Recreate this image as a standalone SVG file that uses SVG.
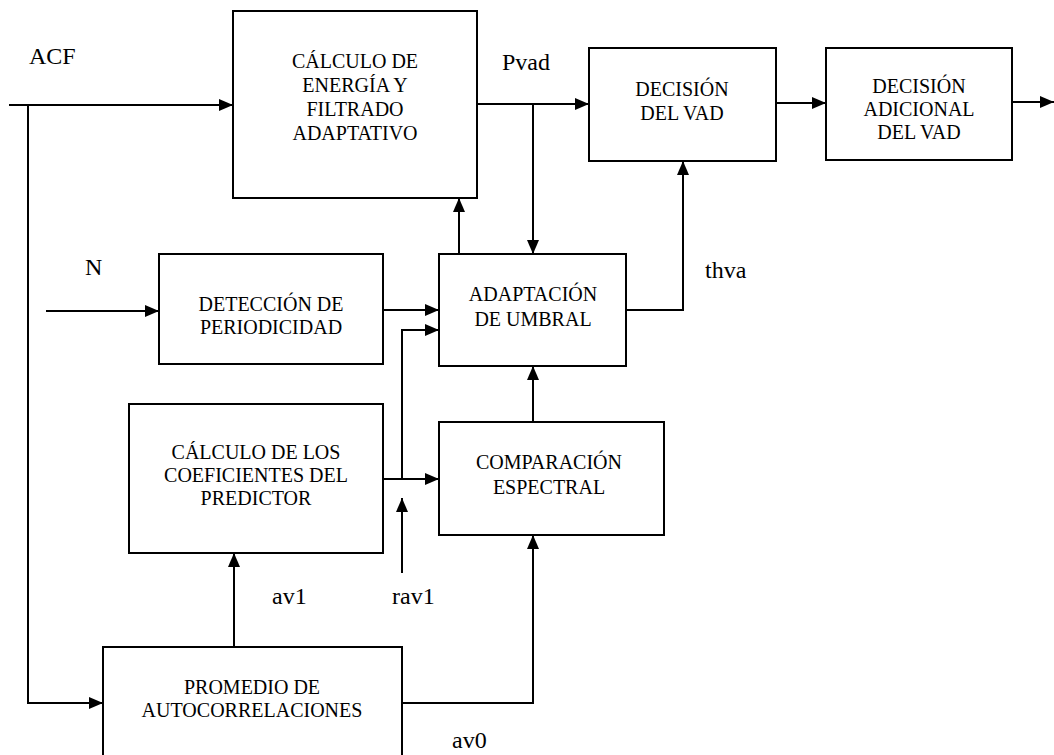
<svg xmlns="http://www.w3.org/2000/svg" width="1054" height="755" viewBox="0 0 1054 755">
  <style>
    .box { fill: #ffffff; stroke: #000000; stroke-width: 2; }
    .wire { fill: none; stroke: #000000; stroke-width: 2; }
    text { font-family: 'Liberation Serif', 'Times New Roman', 'DejaVu Serif', serif; fill: #000000; }
    .t { font-size: 20px; text-anchor: middle; }
    .lbl { font-size: 24px; }
  </style>
  <defs>
    <marker id="arrow" markerWidth="14" markerHeight="12" refX="14" refY="6" orient="auto" markerUnits="userSpaceOnUse">
      <path d="M0,0 L14,6 L0,12 Z" fill="#000000"/>
    </marker>
  </defs>
  <rect width="1054" height="755" fill="#ffffff"/>

  <!-- signal paths -->
  <g id="connectors">
    <path class="wire" d="M9,105 H233" marker-end="url(#arrow)"/>
    <path class="wire" d="M28,105 V703 H103" marker-end="url(#arrow)"/>
    <path class="wire" d="M477,104 H589" marker-end="url(#arrow)"/>
    <path class="wire" d="M533,104 V254" marker-end="url(#arrow)"/>
    <path class="wire" d="M459,254 V198" marker-end="url(#arrow)"/>
    <path class="wire" d="M46,311 H159" marker-end="url(#arrow)"/>
    <path class="wire" d="M383,310 H439" marker-end="url(#arrow)"/>
    <path class="wire" d="M383,479 H439" marker-end="url(#arrow)"/>
    <path class="wire" d="M402,479 V330 H439" marker-end="url(#arrow)"/>
    <path class="wire" d="M402,573 V498" marker-end="url(#arrow)"/>
    <path class="wire" d="M533,422 V366" marker-end="url(#arrow)"/>
    <path class="wire" d="M626,310 H683 V161" marker-end="url(#arrow)"/>
    <path class="wire" d="M776,103 H826" marker-end="url(#arrow)"/>
    <path class="wire" d="M1012,102 H1054" marker-end="url(#arrow)"/>
    <path class="wire" d="M234,647 V553" marker-end="url(#arrow)"/>
    <path class="wire" d="M402,703 H533 V535" marker-end="url(#arrow)"/>
  </g>

  <g id="signal-labels">
    <text class="lbl" x="29" y="64" font-family="Liberation Serif, serif">ACF</text>
    <text class="lbl" x="502" y="70" font-family="Liberation Serif, serif">Pvad</text>
    <text class="lbl" x="85" y="275" font-family="Liberation Serif, serif">N</text>
    <text class="lbl" x="705" y="278" font-family="Liberation Serif, serif">thva</text>
    <text class="lbl" x="272" y="604" font-family="Liberation Serif, serif">av1</text>
    <text class="lbl" x="392" y="604" font-family="Liberation Serif, serif">rav1</text>
    <text class="lbl" x="452" y="748" font-family="Liberation Serif, serif">av0</text>
  </g>

  <g id="energia">
    <rect class="box" x="233" y="11" width="244" height="187"/>
    <text class="t" x="355" y="68">CÁLCULO DE</text>
    <text class="t" x="355" y="92">ENERGÍA Y</text>
    <text class="t" x="355" y="116">FILTRADO</text>
    <text class="t" x="355" y="140">ADAPTATIVO</text>
  </g>

  <g id="decision">
    <rect class="box" x="589" y="48" width="187" height="113"/>
    <text class="t" x="682" y="96">DECISIÓN</text>
    <text class="t" x="682" y="120">DEL VAD</text>
  </g>

  <g id="decision-adicional">
    <rect class="box" x="826" y="48" width="186" height="112"/>
    <text class="t" x="919" y="93">DECISIÓN</text>
    <text class="t" x="919" y="116">ADICIONAL</text>
    <text class="t" x="919" y="139">DEL VAD</text>
  </g>

  <g id="periodicidad">
    <rect class="box" x="159" y="254" width="224" height="110"/>
    <text class="t" x="271" y="311">DETECCIÓN DE</text>
    <text class="t" x="271" y="334">PERIODICIDAD</text>
  </g>

  <g id="umbral">
    <rect class="box" x="439" y="254" width="187" height="112"/>
    <text class="t" x="533" y="301">ADAPTACIÓN</text>
    <text class="t" x="533" y="326">DE UMBRAL</text>
  </g>

  <g id="predictor">
    <rect class="box" x="129" y="404" width="254" height="149"/>
    <text class="t" x="256" y="459">CÁLCULO DE LOS</text>
    <text class="t" x="256" y="482">COEFICIENTES DEL</text>
    <text class="t" x="256" y="505">PREDICTOR</text>
  </g>

  <g id="espectral">
    <rect class="box" x="439" y="422" width="225" height="113"/>
    <text class="t" x="549" y="469">COMPARACIÓN</text>
    <text class="t" x="549" y="494">ESPECTRAL</text>
  </g>

  <g id="autocorrelaciones">
    <rect class="box" x="103" y="647" width="299" height="120"/>
    <text class="t" x="252" y="694">PROMEDIO DE</text>
    <text class="t" x="252" y="717">AUTOCORRELACIONES</text>
  </g>
</svg>
